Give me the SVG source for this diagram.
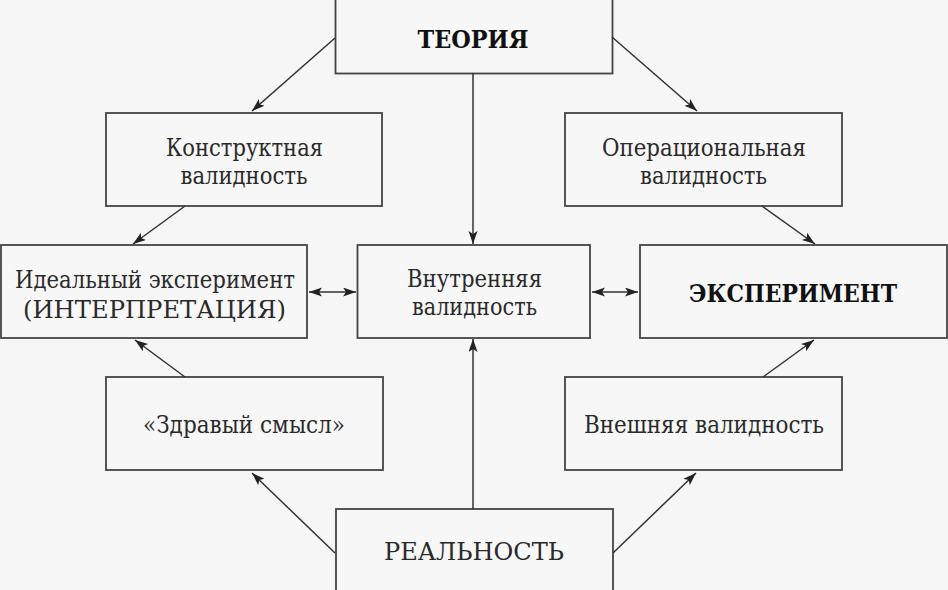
<svg xmlns="http://www.w3.org/2000/svg" width="948" height="590" viewBox="0 0 948 590">
<defs>
<marker id="ah" markerUnits="userSpaceOnUse" markerWidth="14" markerHeight="10" refX="13" refY="4.5" orient="auto-start-reverse">
<path d="M0,0 L13,4.5 L0,9 L3,4.5 Z" fill="#222"/>
</marker>
<style>
.bg{fill:#f6f6f6}
.box{fill:#f7f7f7;stroke:#444;stroke-width:1.8}
.t{font-family:'DejaVu Serif',serif;font-size:24px;fill:#2a2a2a;text-anchor:middle}
.b{font-weight:bold;font-size:25px;fill:#111}
.c line{stroke:#333;stroke-width:1.5;marker-end:url(#ah)}
.c line.d{marker-start:url(#ah)}
</style>
</defs>
<rect class="bg" x="0" y="0" width="948" height="590"/>
<g id="teoriya"><rect class="box" x="335.5" y="-2" width="277" height="75.5"/><text class="t b" x="473" y="48" textLength="111" lengthAdjust="spacingAndGlyphs">ТЕОРИЯ</text></g>
<g id="konstrukt"><rect class="box" x="106" y="113" width="276" height="93"/><text class="t" x="244.5" y="156" textLength="157" lengthAdjust="spacingAndGlyphs">Конструктная</text><text class="t" x="244" y="184" textLength="127" lengthAdjust="spacingAndGlyphs">валидность</text></g>
<g id="operac"><rect class="box" x="565" y="113" width="277" height="93"/><text class="t" x="704" y="156" textLength="204" lengthAdjust="spacingAndGlyphs">Операциональная</text><text class="t" x="703.5" y="184" textLength="127" lengthAdjust="spacingAndGlyphs">валидность</text></g>
<g id="ideal"><rect class="box" x="1" y="245" width="306" height="93"/><text class="t" x="155" y="288" textLength="280" lengthAdjust="spacingAndGlyphs">Идеальный эксперимент</text><text class="t" x="154.5" y="318" textLength="263" lengthAdjust="spacingAndGlyphs">(ИНТЕРПРЕТАЦИЯ)</text></g>
<g id="vnutr"><rect class="box" x="357.5" y="245" width="232.5" height="93"/><text class="t" x="474.5" y="287" textLength="135" lengthAdjust="spacingAndGlyphs">Внутренняя</text><text class="t" x="474.5" y="315" textLength="125" lengthAdjust="spacingAndGlyphs">валидность</text></g>
<g id="eksper"><rect class="box" x="640" y="245" width="307" height="93"/><text class="t b" x="793" y="302" textLength="208" lengthAdjust="spacingAndGlyphs">ЭКСПЕРИМЕНТ</text></g>
<g id="zdrav"><rect class="box" x="106" y="377" width="277" height="93"/><text class="t" x="244" y="433" textLength="202" lengthAdjust="spacingAndGlyphs">«Здравый смысл»</text></g>
<g id="vnesh"><rect class="box" x="565" y="377" width="277" height="93"/><text class="t" x="704" y="433" textLength="240" lengthAdjust="spacingAndGlyphs">Внешняя валидность</text></g>
<g id="realn"><rect class="box" x="336" y="509" width="277" height="85"/><text class="t" x="474" y="560" textLength="180" lengthAdjust="spacingAndGlyphs">РЕАЛЬНОСТЬ</text></g>
<g class="c" id="connectors">
<line x1="335" y1="38" x2="252" y2="111"/>
<line x1="612" y1="37" x2="697" y2="111"/>
<line x1="473" y1="73" x2="473" y2="244"/>
<line x1="185" y1="206" x2="133" y2="244"/>
<line x1="762" y1="206" x2="815" y2="244"/>
<line class="d" x1="309" y1="292" x2="356" y2="292"/>
<line class="d" x1="592" y1="292" x2="638" y2="292"/>
<line x1="185" y1="377" x2="135" y2="340"/>
<line x1="763" y1="377" x2="814" y2="340"/>
<line x1="473" y1="509" x2="473" y2="339"/>
<line x1="335" y1="553" x2="252" y2="473"/>
<line x1="613" y1="553" x2="696" y2="473"/>
</g>
</svg>
